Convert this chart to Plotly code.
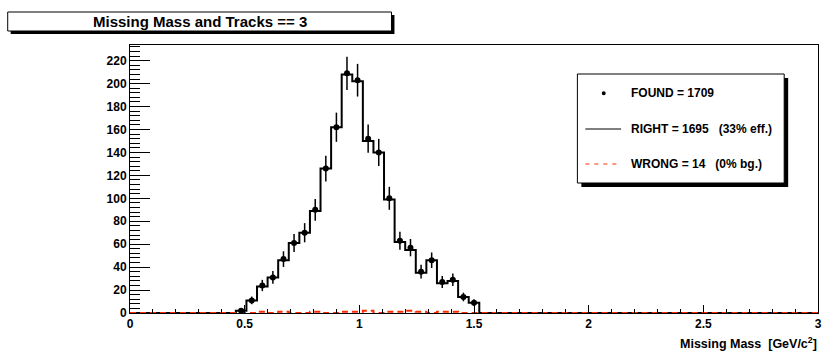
import numpy as np
import plotly.graph_objects as go

# Histogram binning: 65 bins over [0, 3] GeV/c^2
n_bins = 65
x_min, x_max = 0.0, 3.0
first_filled_bin = 10

# Per-bin contents for the filled region (bins 10..32)
right_counts = [2, 11, 23, 31, 46, 61, 70, 89, 126, 162, 208, 202,
                150, 140, 99, 62, 55, 35, 46, 26, 28, 14, 9]
wrong_counts = [0, 0, 1, 0, 1, 0, 0, 1, 0, 0, 1, 1,
                2, 0, 1, 1, 2, 1, 0, 1, 1, 0, 0]
found_counts = [2, 11, 24, 31, 47, 61, 70, 90, 126, 162, 209, 203,
                152, 140, 100, 63, 57, 36, 46, 27, 29, 14, 9]

x_ticks = [0, 0.5, 1, 1.5, 2, 2.5, 3]
x_tick_labels = ["0", "0.5", "1", "1.5", "2", "2.5", "3"]
y_ticks = list(range(0, 240, 20))
y_tick_labels = [str(v) for v in y_ticks]

edges = np.linspace(x_min, x_max, n_bins + 1)
centers = 0.5 * (edges[:-1] + edges[1:])


def full_hist(vals):
    h = np.zeros(n_bins)
    h[first_filled_bin:first_filled_bin + len(vals)] = vals
    return h


def bold(labels):
    return [f"<b>{s}</b>" for s in labels]


right_h = full_hist(right_counts)
wrong_h = full_hist(wrong_counts)
found_c = centers[first_filled_bin:first_filled_bin + len(found_counts)]
found_v = np.array(found_counts, dtype=float)

FONT = "Liberation Sans, Arial, Helvetica, sans-serif"
RED = "#ff2a00"

fig = go.Figure()

# RIGHT: solid black step histogram
fig.add_trace(go.Scatter(
    x=edges, y=np.append(right_h, right_h[-1]),
    mode="lines", line=dict(color="black", width=2, shape="hv"),
    hoverinfo="skip", showlegend=False))

# WRONG: red dashed step histogram
fig.add_trace(go.Scatter(
    x=edges, y=np.append(wrong_h, wrong_h[-1]),
    mode="lines", line=dict(color=RED, width=2, shape="hv", dash="6px,4px"),
    hoverinfo="skip", showlegend=False))

# FOUND: points with Poisson errors
fig.add_trace(go.Scatter(
    x=found_c, y=found_v, mode="markers",
    marker=dict(color="black", size=6, symbol="circle"),
    error_y=dict(type="data", array=np.sqrt(found_v), visible=True,
                 color="black", thickness=1.5, width=0),
    showlegend=False))

W, H = 826, 356
L, R, T, B = 130, 822, 45, 313


def px(x):
    return (x - L) / (R - L)


def py(y):
    return (B - y) / (B - T)


shapes = []
annotations = []

# Title box with drop shadow
shapes.append(dict(type="rect", xref="paper", yref="paper",
                   x0=px(10), x1=px(396), y0=py(34), y1=py(15),
                   fillcolor="black", line=dict(width=0), layer="above"))
shapes.append(dict(type="rect", xref="paper", yref="paper",
                   x0=px(7), x1=px(393), y0=py(31), y1=py(12),
                   fillcolor="white", line=dict(color="black", width=1), layer="above"))
annotations.append(dict(xref="paper", yref="paper", x=px(200), y=py(21.5),
                        text="<b>Missing Mass and Tracks == 3</b>", showarrow=False,
                        font=dict(family=FONT, size=15, color="black"),
                        xanchor="center", yanchor="middle"))

# Legend box with drop shadow
shapes.append(dict(type="rect", xref="paper", yref="paper",
                   x0=px(584), x1=px(792), y0=py(187), y1=py(78),
                   fillcolor="black", line=dict(width=0), layer="above"))
shapes.append(dict(type="rect", xref="paper", yref="paper",
                   x0=px(580), x1=px(788), y0=py(183), y1=py(74),
                   fillcolor="white", line=dict(color="black", width=1), layer="above"))
# legend symbols
shapes.append(dict(type="circle", xref="paper", yref="paper",
                   x0=px(604.5), x1=px(608.5), y0=py(95.3), y1=py(91.3),
                   fillcolor="black", line=dict(color="black", width=0), layer="above"))
shapes.append(dict(type="line", xref="paper", yref="paper",
                   x0=px(588), x1=px(624), y0=py(129), y1=py(129),
                   line=dict(color="black", width=1.2), layer="above"))
shapes.append(dict(type="line", xref="paper", yref="paper",
                   x0=px(588), x1=px(624), y0=py(164), y1=py(164),
                   line=dict(color=RED, width=1.2, dash="4px,5px"), layer="above"))

legend_rows = [
    (93.3, f"<b>FOUND = {int(found_v.sum())}</b>"),
    (129, f"<b>RIGHT = {int(sum(right_counts))}   (33% eff.)</b>"),
    (164, f"<b>WRONG = {int(sum(wrong_counts))}   (0% bg.)</b>"),
]
for yy, txt in legend_rows:
    annotations.append(dict(xref="paper", yref="paper", x=px(632), y=py(yy),
                            text=txt, showarrow=False,
                            font=dict(family=FONT, size=12, color="black"),
                            xanchor="left", yanchor="middle"))

# X axis title
annotations.append(dict(xref="paper", yref="paper", x=px(823), y=py(343),
                        text="<b>Missing Mass  [GeV/c<sup>2</sup>]</b>", showarrow=False,
                        font=dict(family=FONT, size=12.5, color="black"),
                        xanchor="right", yanchor="middle"))

tick_font = dict(family=FONT, size=12, color="black")

fig.update_layout(
    width=W, height=H,
    margin=dict(l=L, r=W - R, t=T, b=H - B, pad=0),
    paper_bgcolor="white", plot_bgcolor="white",
    shapes=shapes, annotations=annotations,
    font=dict(family=FONT, color="black"),
    showlegend=False,
    xaxis=dict(range=[x_min, x_max], tickvals=x_ticks, ticktext=bold(x_tick_labels),
               ticks="inside", ticklen=8, tickwidth=1, tickcolor="black",
               minor=dict(dtick=0.1, ticks="inside", ticklen=4, tickcolor="black"),
               showline=True, linecolor="black", linewidth=1, mirror=True,
               showgrid=False, zeroline=False, tickfont=tick_font),
    yaxis=dict(range=[0, 233.7], tickvals=y_ticks, ticktext=bold(y_tick_labels),
               ticks="inside", ticklen=20, tickwidth=1, tickcolor="black",
               minor=dict(dtick=4, ticks="inside", ticklen=10, tickcolor="black"),
               showline=True, linecolor="black", linewidth=1, mirror=True,
               showgrid=False, zeroline=False, tickfont=tick_font),
)

fig.write_html("out.html")
